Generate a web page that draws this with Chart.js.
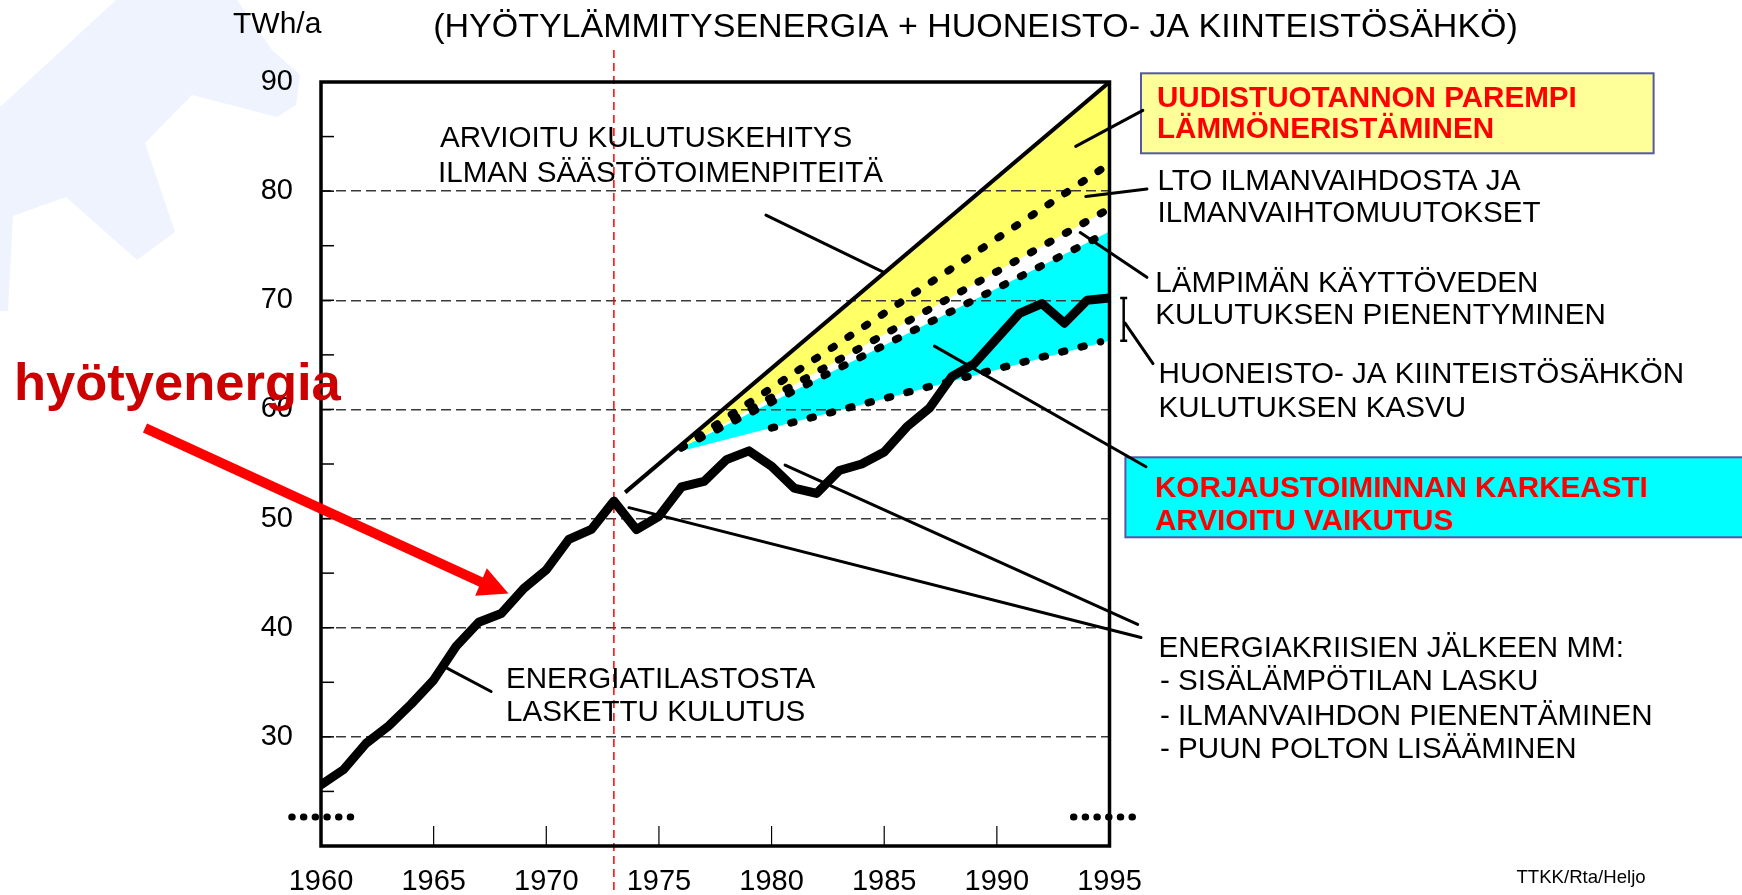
<!DOCTYPE html>
<html>
<head>
<meta charset="utf-8">
<title>Hyötyenergia 1960-1995</title>
<script src="https://cdn.jsdelivr.net/npm/chart.js@4.4.1/dist/chart.umd.min.js"></script>
<style>
  html, body { margin: 0; padding: 0; background: #fff; }
  #chart { display: block; }
</style>
</head>
<body>
<canvas id="chart" width="1742" height="895"></canvas>
<script>
// Values, TWh/a
const years = [1960, 1961, 1962, 1963, 1964, 1965, 1966, 1967, 1968, 1969,
  1970, 1971, 1972, 1973, 1974, 1975, 1976, 1977, 1978, 1979,
  1980, 1981, 1982, 1983, 1984, 1985, 1986, 1987, 1988, 1989,
  1990, 1991, 1992, 1993, 1994, 1995];
const consumption = [25.6, 27.0, 29.4, 31.0, 33.0, 35.2, 38.3, 40.5, 41.3, 43.6,
  45.3, 48.1, 49.0, 51.6, 49.0, 50.2, 52.9, 53.4, 55.4, 56.2,
  54.8, 52.8, 52.3, 54.4, 55.0, 56.1, 58.4, 60.1, 63.0, 64.2,
  66.5, 68.8, 69.7, 67.9, 70.0, 70.2];

// estimated development without saving measures
const trendYears = [1973.5, 1995];
const trendValues = [52.4, 90];

// saving measures (straight estimates)
const savingYears = [1976, 1995];
const insulationValues = [56.5, 82.5];
const ventilationValues = [56.5, 78.4];
const hotWaterValues = [56.5, 76.3];
const renovationValues = [56.2, 66.3];

const electricityYears = [1980, 1994.6];
const electricityValues = [58.3, 66.2];

// axis break marks under the plot
const breakLeftYears = [1958.7, 1961.7];
const breakRightYears = [1993.4, 1996.5];
const breakValues = [22.65, 22.65];

const xTicks = [1960, 1965, 1970, 1975, 1980, 1985, 1990, 1995];
const yTicks = [30, 40, 50, 60, 70, 80, 90];
const yMarks = [25, 30, 35, 40, 45, 50, 55, 60, 65, 70, 75, 80, 85];
const crisisYear = 1973;

// pointer lines from labels to the curves, in (year, TWh/a)
const pointers = [
  [1979.75, 77.8, 1984.94, 72.6],
  [1993.5, 84.1, 1996.48, 87.4],
  [1993.95, 79.5, 1996.66, 80.2],
  [1993.7, 76.2, 1996.66, 72.1],
  [1995.69, 67.9, 1996.93, 64.2],
  [1987.23, 65.8, 1996.62, 54.75],
  [1973.67, 51.0, 1996.4, 39.1],
  [1980.6, 54.9, 1996.25, 40.3],
  [1965.59, 36.3, 1967.55, 34.16]
];

const FONT = '"Liberation Sans", Arial, Helvetica, sans-serif';
const pts = (xs, ys) => xs.map((x, i) => ({ x: x, y: ys[i] }));

function dotted(data, extra) {
  return Object.assign({
    data: data,
    borderColor: '#000',
    borderWidth: 7.5,
    borderDash: [3, 17],
    borderCapStyle: 'round',
    pointRadius: 0,
    fill: false
  }, extra || {});
}

function txt(ctx, s, x, y, size, color, weight, align) {
  ctx.font = (weight || 'normal') + ' ' + size + 'px ' + FONT;
  ctx.fillStyle = color || '#000';
  ctx.textAlign = align || 'left';
  ctx.textBaseline = 'alphabetic';
  ctx.fillText(s, x, y);
}

const decorations = {
  id: 'decorations',
  beforeDraw(chart) {
    // faint logo in the corner
    const ctx = chart.ctx;
    ctx.save();
    ctx.fillStyle = '#eff3fd';
    ctx.beginPath();
    [[116, 0], [237, 0], [272, 50], [300, 75], [296, 105], [277, 117], [192, 95],
     [145, 143], [175, 232], [137, 260], [66, 197], [13, 216], [8, 311], [0, 311], [0, 107]]
      .forEach((p, i) => i ? ctx.lineTo(p[0], p[1]) : ctx.moveTo(p[0], p[1]));
    ctx.closePath();
    ctx.fill();
    ctx.restore();
  },
  beforeDatasetsDraw(chart) {
    const ctx = chart.ctx, x = chart.scales.x;
    const px = x.getPixelForValue(crisisYear);
    ctx.save();
    ctx.strokeStyle = '#f00';
    ctx.lineWidth = 1.5;
    ctx.setLineDash([8, 5]);
    ctx.beginPath();
    ctx.moveTo(px, 50);
    ctx.lineTo(px, 895);
    ctx.stroke();
    ctx.restore();
  },
  afterDraw(chart) {
    const ctx = chart.ctx, a = chart.chartArea;
    const x = chart.scales.x, y = chart.scales.y;
    ctx.save();

    // frame and inward tick marks
    ctx.strokeStyle = '#000';
    ctx.lineWidth = 3.5;
    ctx.strokeRect(a.left, a.top, a.right - a.left, a.bottom - a.top);
    ctx.lineWidth = 1.5;
    yMarks.forEach(v => {
      const py = y.getPixelForValue(v);
      ctx.beginPath(); ctx.moveTo(a.left, py); ctx.lineTo(a.left + 13, py); ctx.stroke();
    });
    ctx.lineWidth = 1.2;
    xTicks.slice(1, -1).forEach(v => {
      const px = x.getPixelForValue(v);
      ctx.beginPath(); ctx.moveTo(px, a.bottom); ctx.lineTo(px, a.bottom - 20); ctx.stroke();
    });

    // boxes
    ctx.lineWidth = 2;
    ctx.strokeStyle = '#5558a0';
    ctx.fillStyle = '#ffff99';
    ctx.fillRect(1141, 73.3, 512.6, 80);
    ctx.strokeRect(1141, 73.3, 512.6, 80);
    ctx.fillStyle = '#00ffff';
    ctx.fillRect(1125.4, 457.3, 630, 80);
    ctx.strokeRect(1125.4, 457.3, 630, 80);

    // pointer lines
    ctx.strokeStyle = '#000';
    ctx.lineWidth = 3;
    ctx.lineCap = 'round';
    pointers.forEach(p => {
      ctx.beginPath();
      ctx.moveTo(x.getPixelForValue(p[0]), y.getPixelForValue(p[1]));
      ctx.lineTo(x.getPixelForValue(p[2]), y.getPixelForValue(p[3]));
      ctx.stroke();
    });
    // I-bar between consumption end and electricity line end
    const bx = x.getPixelForValue(1995.63);
    const b1 = y.getPixelForValue(consumption[consumption.length - 1]);
    const b2 = y.getPixelForValue(renovationValues[1]);
    ctx.lineWidth = 2.5;
    ctx.lineCap = 'butt';
    ctx.beginPath();
    ctx.moveTo(bx, b1); ctx.lineTo(bx, b2);
    ctx.moveTo(bx - 3.5, b1); ctx.lineTo(bx + 3.5, b1);
    ctx.moveTo(bx - 3.5, b2); ctx.lineTo(bx + 3.5, b2);
    ctx.stroke();

    // texts
    const S = 29.6;
    txt(ctx, 'TWh/a', 233, 33.3, 30);
    txt(ctx, '(HYÖTYLÄMMITYSENERGIA + HUONEISTO- JA KIINTEISTÖSÄHKÖ)', 975.5, 36.7, 34, '#000', 'normal', 'center');
    txt(ctx, 'ARVIOITU KULUTUSKEHITYS', 440, 147.3, S);
    txt(ctx, 'ILMAN SÄÄSTÖTOIMENPITEITÄ', 438, 181.7, S);
    txt(ctx, 'ENERGIATILASTOSTA', 506, 688.3, S);
    txt(ctx, 'LASKETTU KULUTUS', 506, 720.7, S);
    txt(ctx, 'UUDISTUOTANNON PAREMPI', 1157, 106.7, S, '#f00', 'bold');
    txt(ctx, 'LÄMMÖNERISTÄMINEN', 1157, 138.3, S, '#f00', 'bold');
    txt(ctx, 'LTO ILMANVAIHDOSTA JA', 1157.5, 190, S);
    txt(ctx, 'ILMANVAIHTOMUUTOKSET', 1157.5, 221.7, S);
    txt(ctx, 'LÄMPIMÄN KÄYTTÖVEDEN', 1155.3, 291.7, S);
    txt(ctx, 'KULUTUKSEN PIENENTYMINEN', 1155.3, 324, S);
    txt(ctx, 'HUONEISTO- JA KIINTEISTÖSÄHKÖN', 1158.6, 383.3, S);
    txt(ctx, 'KULUTUKSEN KASVU', 1158.6, 416.7, S);
    txt(ctx, 'KORJAUSTOIMINNAN KARKEASTI', 1155, 497.3, S, '#f00', 'bold');
    txt(ctx, 'ARVIOITU VAIKUTUS', 1155, 530, S, '#f00', 'bold');
    txt(ctx, 'ENERGIAKRIISIEN JÄLKEEN MM:', 1158.6, 656.7, S);
    txt(ctx, '- SISÄLÄMPÖTILAN LASKU', 1160, 690.3, S);
    txt(ctx, '- ILMANVAIHDON PIENENTÄMINEN', 1160, 724.5, S);
    txt(ctx, '- PUUN POLTON LISÄÄMINEN', 1160, 758.3, S);
    txt(ctx, 'TTKK/Rta/Heljo', 1516.5, 883.3, 18.6);

    // red arrow and label
    ctx.fillStyle = '#ff0000';
    ctx.strokeStyle = '#ff0000';
    ctx.lineWidth = 10;
    ctx.beginPath();
    ctx.moveTo(145, 428);
    ctx.lineTo(482, 582.5);
    ctx.stroke();
    ctx.beginPath();
    ctx.moveTo(508.5, 593.5);
    ctx.lineTo(486.8, 568.2);
    ctx.lineTo(475.2, 595.8);
    ctx.closePath();
    ctx.fill();
    txt(ctx, 'hyötyenergia', 14, 399.5, 52.5, '#cc0000', 'bold');

    ctx.restore();
  }
};

new Chart(document.getElementById('chart'), {
  type: 'line',
  data: {
    datasets: [
      { data: pts(years, consumption), borderColor: '#000', borderWidth: 9,
        borderJoinStyle: 'round', borderCapStyle: 'round', pointRadius: 0, fill: false },
      { data: pts(trendYears, trendValues), borderColor: '#000', borderWidth: 4,
        pointRadius: 0, fill: false },
      dotted(pts(savingYears, insulationValues)),
      dotted(pts(savingYears, ventilationValues), { fill: 1, backgroundColor: '#ffff66' }),
      dotted(pts(savingYears, hotWaterValues)),
      { data: pts(savingYears, renovationValues), borderWidth: 0, borderColor: 'rgba(0,0,0,0)',
        pointRadius: 0, fill: 4, backgroundColor: '#00ffff' },
      dotted(pts(electricityYears, electricityValues)),
      dotted(pts(breakLeftYears, breakValues), { borderWidth: 7, borderDash: [0.5, 11.2], clip: false }),
      dotted(pts(breakRightYears, breakValues), { borderWidth: 7, borderDash: [0.5, 11.2], clip: false })
    ]
  },
  options: {
    responsive: false,
    animation: false,
    devicePixelRatio: 1,
    layout: { padding: { left: 0, top: 82, right: 632.5, bottom: 0 } },
    plugins: {
      legend: { display: false },
      tooltip: { enabled: false },
      filler: { drawTime: 'beforeDraw' }
    },
    scales: {
      x: {
        type: 'linear',
        min: 1960,
        max: 1995,
        afterBuildTicks: s => { s.ticks = xTicks.map(v => ({ value: v })); },
        afterFit: s => { s.height = 49; },
        ticks: {
          padding: 19,
          maxRotation: 0,
          autoSkip: false,
          color: '#000',
          font: { family: FONT, size: 29 },
          callback: v => String(v)
        },
        grid: { display: false, drawTicks: false },
        border: { display: false }
      },
      y: {
        type: 'linear',
        min: 20,
        max: 90,
        afterBuildTicks: s => { s.ticks = yTicks.map(v => ({ value: v })); },
        afterFit: s => { s.width = 321; },
        ticks: {
          padding: 28,
          color: '#000',
          font: { family: FONT, size: 29 },
          callback: v => String(v)
        },
        grid: {
          drawTicks: false,
          lineWidth: 1.5,
          color: c => (c.tick && c.tick.value < 90) ? '#3a3a3a' : 'rgba(0,0,0,0)'
        },
        border: { display: false, dash: [10, 5] }
      }
    }
  },
  plugins: [decorations]
});
</script>
</body>
</html>
